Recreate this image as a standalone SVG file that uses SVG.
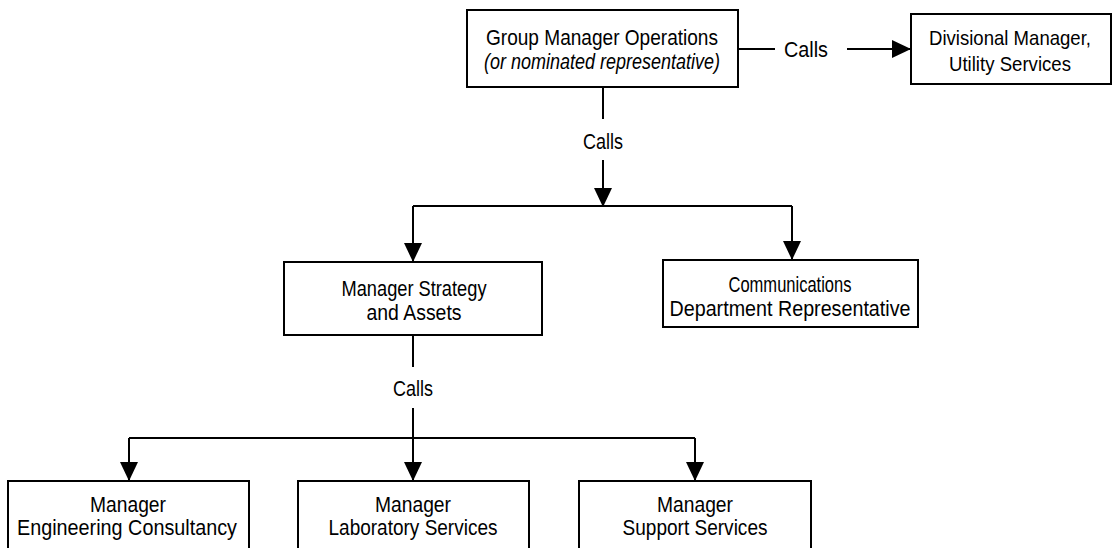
<svg xmlns="http://www.w3.org/2000/svg" width="1114" height="548" viewBox="0 0 1114 548">
<style>
.box{fill:#fff;stroke:#000;stroke-width:2}
.t{font-family:"Liberation Sans",Arial,sans-serif;font-size:22px;fill:#000;text-anchor:middle}
.i{font-style:italic}
.s{font-size:21px}
.c{fill:none;stroke:#000;stroke-width:2}
</style>
<defs>
<marker id="ah" markerWidth="19" markerHeight="18" refX="19" refY="9" orient="auto" markerUnits="userSpaceOnUse" viewBox="0 0 19 18">
<path d="M0,0 L19,9 L0,18 Z" fill="#000"/>
</marker>
</defs>
<rect width="1114" height="548" fill="#fff"/>
<g id="connectors">
<path class="c" d="M738,49 H775"/>
<text class="t" x="806" y="57" textLength="44" lengthAdjust="spacingAndGlyphs">Calls</text>
<path class="c" d="M847,49 H911" marker-end="url(#ah)"/>
<path class="c" d="M603,87 V119"/>
<text class="t" x="603" y="149" textLength="40" lengthAdjust="spacingAndGlyphs">Calls</text>
<path class="c" d="M603,160 V207" marker-end="url(#ah)"/>
<path class="c" d="M413,206 H792"/>
<path class="c" d="M413,206 V262" marker-end="url(#ah)"/>
<path class="c" d="M792,206 V260" marker-end="url(#ah)"/>
<path class="c" d="M413,335 V367"/>
<text class="t" x="413" y="396" textLength="40" lengthAdjust="spacingAndGlyphs">Calls</text>
<path class="c" d="M413,408 V481" marker-end="url(#ah)"/>
<path class="c" d="M129,438 H695"/>
<path class="c" d="M129,438 V481" marker-end="url(#ah)"/>
<path class="c" d="M695,438 V481" marker-end="url(#ah)"/>
</g>
<g id="n-gmo">
<rect class="box" x="467" y="10" width="271" height="77"/>
<text class="t" x="602" y="45" textLength="232" lengthAdjust="spacingAndGlyphs">Group Manager Operations</text>
<text class="t i" x="602" y="69" textLength="236" lengthAdjust="spacingAndGlyphs">(or nominated representative)</text>
</g>
<g id="n-dm">
<rect class="box" x="911" y="14" width="200" height="70"/>
<text class="t s" x="1010" y="45" textLength="162" lengthAdjust="spacingAndGlyphs">Divisional Manager,</text>
<text class="t s" x="1010" y="71" textLength="122" lengthAdjust="spacingAndGlyphs">Utility Services</text>
</g>
<g id="n-msa">
<rect class="box" x="284" y="262" width="258" height="73"/>
<text class="t" x="414" y="296" textLength="145" lengthAdjust="spacingAndGlyphs">Manager Strategy</text>
<text class="t" x="414" y="320" textLength="95" lengthAdjust="spacingAndGlyphs">and Assets</text>
</g>
<g id="n-cdr">
<rect class="box" x="663" y="260" width="255" height="67"/>
<text class="t" x="790" y="292" textLength="123" lengthAdjust="spacingAndGlyphs">Communications</text>
<text class="t" x="790" y="316" textLength="241" lengthAdjust="spacingAndGlyphs">Department Representative</text>
</g>
<g id="n-mec">
<rect class="box" x="8" y="481" width="241" height="80"/>
<text class="t" x="128" y="512" textLength="76" lengthAdjust="spacingAndGlyphs">Manager</text>
<text class="t" x="127" y="535" textLength="220" lengthAdjust="spacingAndGlyphs">Engineering Consultancy</text>
</g>
<g id="n-mls">
<rect class="box" x="298" y="481" width="231" height="80"/>
<text class="t" x="413" y="512" textLength="76" lengthAdjust="spacingAndGlyphs">Manager</text>
<text class="t" x="413" y="535" textLength="169" lengthAdjust="spacingAndGlyphs">Laboratory Services</text>
</g>
<g id="n-mss">
<rect class="box" x="579" y="481" width="232" height="80"/>
<text class="t" x="695" y="512" textLength="76" lengthAdjust="spacingAndGlyphs">Manager</text>
<text class="t" x="695" y="535" textLength="145" lengthAdjust="spacingAndGlyphs">Support Services</text>
</g>
</svg>
